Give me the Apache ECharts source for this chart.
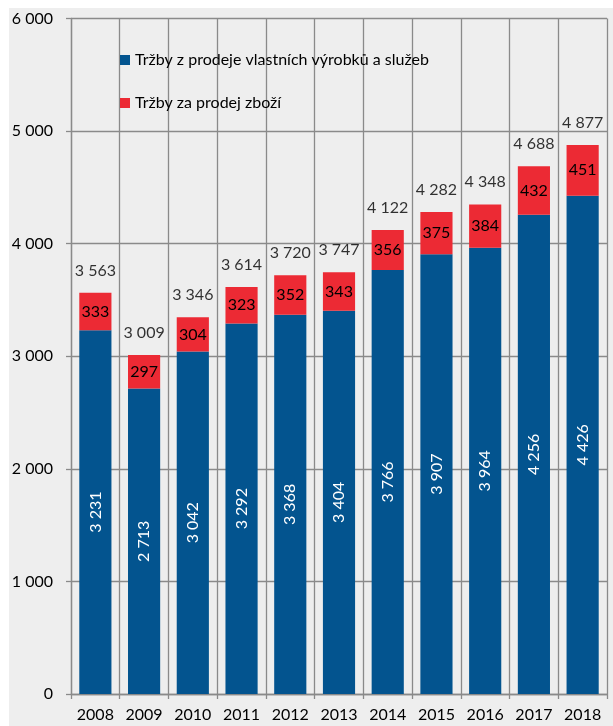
<!DOCTYPE html>
<html>
<head>
<meta charset="utf-8">
<script src="https://cdn.jsdelivr.net/npm/echarts@6/dist/echarts.min.js"></script>
<style>
  html, body { margin: 0; padding: 0; background: #ffffff; }
  #chart { width: 613px; height: 726px; }
</style>
</head>
<body>
<div id="chart"></div>
<script>
// Tržby (mil. Kč) podle roku
const years = ['2008', '2009', '2010', '2011', '2012', '2013', '2014', '2015', '2016', '2017', '2018'];
const vyrobkySluzby = [3231, 2713, 3042, 3292, 3368, 3404, 3766, 3907, 3964, 4256, 4426];
const zbozi = [333, 297, 304, 323, 352, 343, 356, 375, 384, 432, 451];
const celkem = [3563, 3009, 3346, 3614, 3720, 3747, 4122, 4282, 4348, 4688, 4877];
const yTicks = [0, 1000, 2000, 3000, 4000, 5000, 6000];

const nameA = 'Tržby z prodeje vlastních výrobků a služeb';
const nameB = 'Tržby za prodej zboží';

const fmt = v => String(v).replace(/\B(?=(\d{3})+(?!\d))/g, ' ');
const FONT = 'Lato, "Open Sans", sans-serif';
const FS = 16;

const chart = echarts.init(document.getElementById('chart'), null, { renderer: 'canvas' });
chart.setOption({
  animation: false,
  textStyle: { fontFamily: FONT },
  graphic: [{
    type: 'rect', z: -10, silent: true,
    shape: { x: 9, y: 8, width: 604, height: 718 },
    style: { fill: '#eeeeee' }
  }],
  grid: { left: 71, right: 6, top: 18.5, bottom: 32, containLabel: false },
  legend: {
    data: [nameA, nameB],
    orient: 'vertical',
    left: 115, top: 47,
    itemWidth: 10, itemHeight: 10, itemGap: 27,
    icon: 'rect',
    textStyle: { fontSize: FS, color: '#000', fontFamily: FONT }
  },
  xAxis: {
    type: 'category',
    data: years,
    boundaryGap: true,
    axisLine: { lineStyle: { color: '#8a8a8a', width: 1.3 } },
    axisTick: { show: true, length: 5, interval: 0, lineStyle: { color: '#8a8a8a', width: 1.3 } },
    axisLabel: { fontSize: FS, color: '#000', margin: 13, fontFamily: FONT },
    splitLine: { show: true, interval: 0, lineStyle: { color: '#8a8a8a', width: 1.3 } }
  },
  yAxis: {
    type: 'value',
    min: yTicks[0], max: yTicks[yTicks.length - 1], interval: 1000,
    axisLine: { show: true, lineStyle: { color: '#8a8a8a', width: 1.3 } },
    axisTick: { show: true, length: 5, lineStyle: { color: '#8a8a8a', width: 1.3 } },
    axisLabel: { fontSize: FS, color: '#000', margin: 18, fontFamily: FONT, formatter: v => fmt(v) },
    splitLine: { show: true, lineStyle: { color: '#8a8a8a', width: 1.3 } }
  },
  series: [
    {
      name: nameA, type: 'bar', stack: 'trzby', barWidth: '66%',
      itemStyle: { color: '#03548f' },
      data: vyrobkySluzby,
      label: {
        show: true, position: 'inside', rotate: 90,
        color: '#ffffff', fontSize: FS, fontFamily: FONT,
        formatter: p => fmt(p.value)
      }
    },
    {
      name: nameB, type: 'bar', stack: 'trzby', barWidth: '66%',
      itemStyle: { color: '#ec2a34' },
      data: zbozi,
      label: {
        show: true, position: 'inside',
        color: '#000', fontSize: FS, fontFamily: FONT,
        formatter: p => fmt(p.value)
      }
    },
    {
      name: 'celkem', type: 'scatter',
      symbolSize: 1, itemStyle: { color: 'rgba(0,0,0,0)' },
      data: celkem,
      label: {
        show: true, position: 'top', distance: 14,
        color: '#000', fontSize: FS, fontFamily: FONT,
        formatter: p => fmt(p.value)
      },
      z: 5
    }
  ]
});
</script>
</body>
</html>
